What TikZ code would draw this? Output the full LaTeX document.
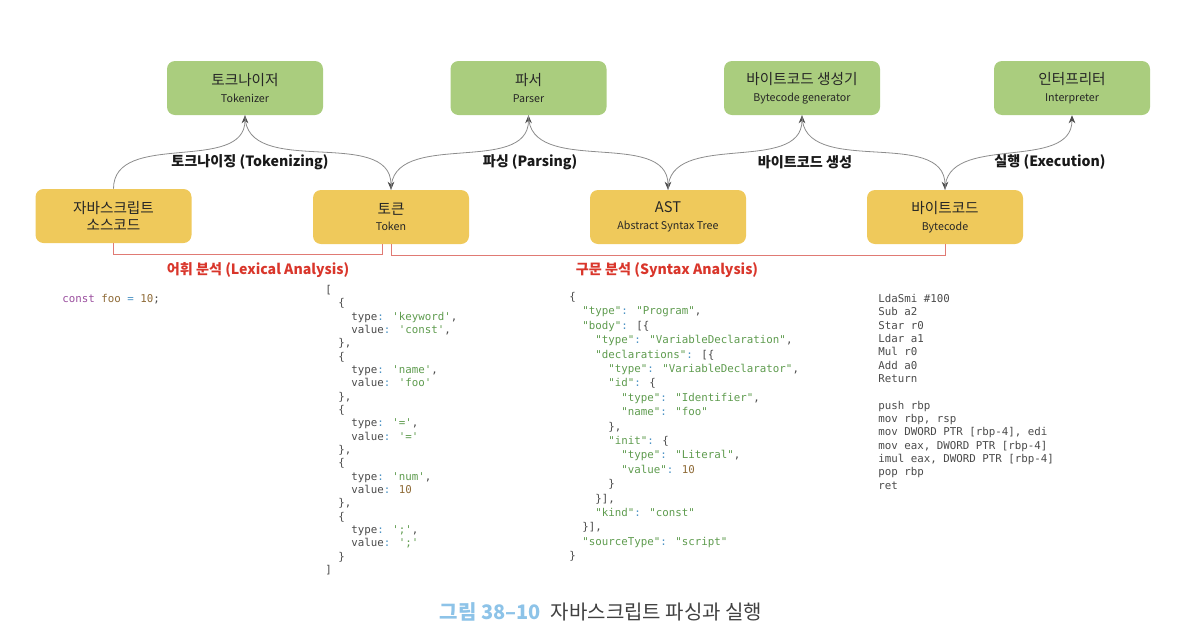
\documentclass[tikz,border=0pt]{standalone}
\usepackage{fontspec}
\setmainfont{Noto Sans CJK KR}
\newfontfamily\codefont{DejaVu Sans Mono}[Ligatures=TeXOff]
\usetikzlibrary{arrows.meta}

\definecolor{boxgreen}{HTML}{AACD7E}
\definecolor{boxyellow}{HTML}{EFC95B}
\definecolor{linegray}{HTML}{8C8C8C}
\definecolor{analred}{HTML}{D9362B}
\definecolor{spanred}{HTML}{E07A74}
\definecolor{capblue}{HTML}{8DC3E8}
\definecolor{codetext}{HTML}{4A4A4A}
\definecolor{codestr}{HTML}{5E9B4E}
\definecolor{codenum}{HTML}{8E6A36}
\definecolor{codekw}{HTML}{9A4E9E}
\definecolor{codepun}{HTML}{4D93C4}

% code colouring
\newcommand\st[1]{\textcolor{codestr}{#1}}
\newcommand\nm[1]{\textcolor{codenum}{#1}}
\newcommand\kw[1]{\textcolor{codekw}{#1}}
\newcommand\pu[1]{\textcolor{codepun}{#1}}
\newcommand\ind[1]{\hspace*{#1\fontcharwd\font`0}}
\newcommand\sub[1]{{\fontsize{8}{9}\selectfont #1}}

\tikzset{
  stage/.style={rounded corners=6pt, minimum width=117pt, minimum height=40.5pt,
    align=center, inner sep=0pt, text=black!85,
    font=\fontsize{11}{12.5}\selectfont},
  tool/.style={stage, fill=boxgreen},
  data/.style={stage, fill=boxyellow},
  flow/.style={-{Stealth[length=6pt,width=5pt,color=black!70]}, draw=linegray, line width=0.6pt},
  span/.style={draw=spanred, line width=0.6pt},
  steplabel/.style={font=\bfseries\fontsize{10.6}{12}\selectfont, text=black!90},
  phaselabel/.style={font=\bfseries\fontsize{10.6}{12}\selectfont, text=analred},
  code/.style={anchor=north west, align=left, inner sep=0pt, text=codetext,
    font=\codefont\fontsize{8.1}{10}\selectfont},
}

\begin{document}
\begin{tikzpicture}[x=0.75pt, y=0.75pt]

  \useasboundingbox (0,0) rectangle (1190,-636);

  % Eines
  \node[tool] (tkz) at (245,-88) {토크나이저\\\sub{Tokenizer}};
  \node[tool] (psr) at (528.5,-88) {파서\\\sub{Parser}};
  \node[tool] (gen) at (802,-88) {바이트코드 생성기\\\sub{Bytecode generator}};
  \node[tool] (itp) at (1072,-88) {인터프리터\\\sub{Interpreter}};

  % Resultats
  \node[data] (src) at (113.5,-216) {자바스크립트\\소스코드};
  \node[data] (tok) at (391,-217) {토큰\\\sub{Token}};
  \node[data] (ast) at (668,-217) {AST\\\sub{Abstract Syntax Tree}};
  \node[data] (bc) at (945,-217) {바이트코드\\\sub{Bytecode}};

  % Fletxes
  \draw[flow] (src.north) to[out=90,in=-90] (tkz.south);
  \draw[flow] (tkz.south) to[out=-90,in=90] (tok.north);
  \draw[flow] (tok.north) to[out=90,in=-90] (psr.south);
  \draw[flow] (psr.south) to[out=-90,in=90] (ast.north);
  \draw[flow] (ast.north) to[out=90,in=-90] (gen.south);
  \draw[flow] (gen.south) to[out=-90,in=90] (bc.north);
  \draw[flow] (bc.north) to[out=90,in=-90] (itp.south);

  \node[steplabel] (l1) at (250,-162) {토크나이징 (Tokenizing)};
  \node[steplabel] (l2) at (530,-162) {파싱 (Parsing)};
  \node[steplabel] (l3) at (805,-162) {바이트코드 생성};
  \node[steplabel] (l4) at (1050,-162) {실행 (Execution)};

  % Fases
  \draw[span] (src.south) -- ++(0,-11) -| ([xshift=-6.75pt]tok.south);
  \draw[span] (tok.south) -- ++(0,-11) -| (bc.south);
  \node[phaselabel] (lex) at (258,-270) {어휘 분석 (Lexical Analysis)};
  \node[phaselabel] (syn) at (667,-270) {구문 분석 (Syntax Analysis)};

  % Codi
  \node[code] (js) at (62,-294) {\kw{const} \nm{foo} \pu{=} \nm{10};};

  \node[code] (toklist) at (325,-285) {%
    [\\
    \ind2\{\\
    \ind4type\pu{:} \st{'keyword'},\\
    \ind4value\pu{:} \st{'const'},\\
    \ind2\},\\
    \ind2\{\\
    \ind4type\pu{:} \st{'name'},\\
    \ind4value\pu{:} \st{'foo'}\\
    \ind2\},\\
    \ind2\{\\
    \ind4type\pu{:} \st{'='},\\
    \ind4value\pu{:} \st{'='}\\
    \ind2\},\\
    \ind2\{\\
    \ind4type\pu{:} \st{'num'},\\
    \ind4value\pu{:} \nm{10}\\
    \ind2\},\\
    \ind2\{\\
    \ind4type\pu{:} \st{';'},\\
    \ind4value\pu{:} \st{';'}\\
    \ind2\}\\
    ]};

  \node[code, font=\codefont\fontsize{8.1}{10.8}\selectfont] (astcode) at (569,-292) {%
    \{\\
    \ind2\st{"type"}\pu{:} \st{"Program"},\\
    \ind2\st{"body"}\pu{:} [\{\\
    \ind4\st{"type"}\pu{:} \st{"VariableDeclaration"},\\
    \ind4\st{"declarations"}\pu{:} [\{\\
    \ind6\st{"type"}\pu{:} \st{"VariableDeclarator"},\\
    \ind6\st{"id"}\pu{:} \{\\
    \ind8\st{"type"}\pu{:} \st{"Identifier"},\\
    \ind8\st{"name"}\pu{:} \st{"foo"}\\
    \ind6\},\\
    \ind6\st{"init"}\pu{:} \{\\
    \ind8\st{"type"}\pu{:} \st{"Literal"},\\
    \ind8\st{"value"}\pu{:} \nm{10}\\
    \ind6\}\\
    \ind4\}],\\
    \ind4\st{"kind"}\pu{:} \st{"const"}\\
    \ind2\}],\\
    \ind2\st{"sourceType"}\pu{:} \st{"script"}\\
    \}};

  \node[code] (bytecode) at (878,-294) {%
    LdaSmi \#100\\
    Sub a2\\
    Star r0\\
    Ldar a1\\
    Mul r0\\
    Add a0\\
    Return\\[10pt]
    push rbp\\
    mov rbp, rsp\\
    mov DWORD PTR [rbp-4], edi\\
    mov eax, DWORD PTR [rbp-4]\\
    imul eax, DWORD PTR [rbp-4]\\
    pop rbp\\
    ret};

  % Peu
  \node[font=\fontsize{15}{17}\selectfont, text=black!75] (cap) at (601,-612)
    {\textcolor{capblue}{\bfseries 그림 38–10}\enspace 자바스크립트 파싱과 실행};

\end{tikzpicture}
\end{document}
